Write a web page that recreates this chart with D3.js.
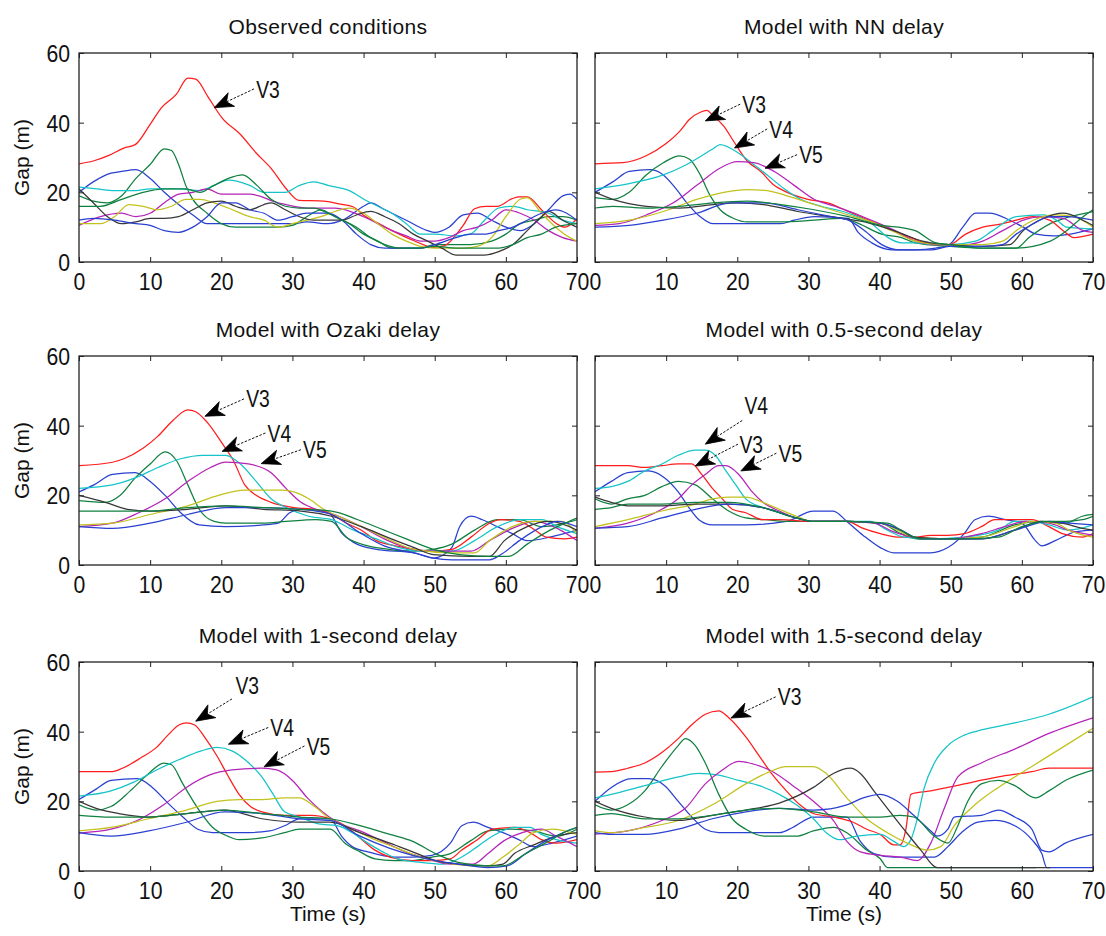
<!DOCTYPE html>
<html><head><meta charset="utf-8">
<script src="https://cdn.jsdelivr.net/npm/d3@7"></script>
<style>
html,body{margin:0;padding:0;background:#fff;}
svg{display:block;}
.tick text{font-family:"Liberation Sans",Arial,sans-serif;font-size:24px;fill:#111;}
.title{font-family:"Liberation Sans",Arial,sans-serif;font-size:21px;fill:#111;letter-spacing:0.4px;}
.alabel{font-family:"Liberation Sans",Arial,sans-serif;font-size:21px;fill:#111;}
.ann{font-family:"Liberation Sans",Arial,sans-serif;font-size:24px;fill:#111;}
</style></head>
<body>
<svg id="chart" width="1106" height="936"></svg>
<script>
// ---------- data ----------
const panelTitles = ["Observed conditions","Model with NN delay","Model with Ozaki delay",
  "Model with 0.5-second delay","Model with 1-second delay","Model with 1.5-second delay"];
const xTicks = [0,10,20,30,40,50,60,70];
const yTicks = [0,20,40,60];
const vehicleNames = ["V1","V2","V3","V4","V5","V6","V7","V8","V9"];
const lineColors = ["#2a40d0","#108040","#ff1c1c","#14c4c8","#b424b8","#c2c21e","#383838","#2a40d0","#108040"];

// each series: [time (s), gap (m)] pairs
const observedSeries = [
 [[0,20],[2,23],[4.5,25.5],[6,26],[8,26.5],[10,24],[12,20],[14,16.5],[16,13.5],[18,11],[20,11],[25,11],[30,11],[32,11.5],[35,11],[37,12],[40,16],[41,17],[43,15],[46,12],[49,9],[50,8.5],[52,10],[54,13.5],[56,14],[58,12],[60,10],[62,9],[64,11],[66,15],[68,19],[69,19.5],[70,18]],
 [[0,19],[2,17.5],[4,17],[6,19],[8,24],[10,28],[12,32.5],[13,32],[14,28],[15,22],[16,18],[18,14],[20,11],[22,10],[25,10],[28,10],[30,10.5],[32,13],[34,15],[36,13],[38,11],[40,8],[42,6],[44,4],[46,4],[48,4],[50,5],[52,5],[55,5],[58,6],[60,8],[62,11],[64,12],[66,13],[68,13],[70,12]],
 [[0,28.2],[2,29],[4.2,30.6],[6.3,32.7],[7.9,33.7],[10,39.5],[11.6,44.3],[13.7,48.2],[15.3,52.8],[16.4,52.5],[18.2,47.2],[20.1,41.4],[22.7,36.6],[24.9,31.3],[27,26.9],[29.1,21.1],[30.9,17.7],[34.4,17.5],[36.5,16.7],[38.6,15.8],[40,13.4],[41.8,11.4],[44.5,8.5],[47.1,6.1],[49.8,4.2],[51.3,4.6],[54,10.5],[55.6,15.3],[57.2,16],[58.8,16],[60.9,18.2],[61.9,18.7],[63,18.7],[65.1,14.8],[67.2,10.9],[68.3,10],[70,12.4]],
 [[0,21.5],[2.5,21],[5,20.5],[8,20.5],[10,21],[14,21],[17,20.5],[19,22],[21,23.5],[24,22],[26,20],[29,20],[31,22],[33,23],[35,22],[38,20.5],[40.5,17.5],[42,16],[44,14],[46,11],[48,8],[50,8],[53,7.5],[55,8],[57,12],[59,15.5],[61,16],[63,15],[66,14],[68,12],[70,11]],
 [[0,10.5],[3,13],[6,14],[8,13],[10,14],[12,17],[14,19.5],[16,20],[18,21],[20,19.5],[24,19.5],[28,17],[32,15.5],[36,15.5],[40,13],[42,11],[44,9],[46,7.5],[48,6],[50,6],[52,7],[54,9],[56,10],[58,12],[60,15],[62,14],[64,12],[66,9],[68,7],[70,6]],
 [[0,11],[3,11],[5,13],[7,16.5],[9,16],[11,15],[13,16],[15,18],[17,18],[19,17],[21,15.5],[24,13],[26,12],[28,10],[30,11],[32,12],[34,13],[36,14.5],[38,15.5],[40,14],[42,11],[44,8],[46,6],[48,4.5],[50,4],[52,4],[54,4],[56,4.5],[58,7],[60,13],[62,18],[63,18.5],[65,14],[67,10],[69,7],[70,6]],
 [[0,21],[2,17],[4,13],[6,11],[8,11.5],[10,12.5],[12,12.5],[14,13],[16,15],[18,17],[20,17.5],[22,16],[24,15],[26,16.5],[27,17],[29,15],[31,13],[33,12],[35,12],[37,12],[39,13.5],[41,14.5],[43,13],[45,11],[47,8],[49,6],[51,4],[53,2],[55,2],[57,2],[59,3],[61,5],[63,9],[65,13],[66,14.5],[68,12],[70,10]],
 [[0,12],[2,12.5],[5,12],[8,11],[10,10.5],[12,9],[14,8.5],[16,10],[18,13],[20,17],[22,17],[24,15],[26,14],[28,12],[30,13],[32,14],[35,14],[37,12],[39,8],[41,5],[43,4],[45,4],[48,4],[50,5],[53,7],[55,8],[57,8],[59,9],[61,10],[63,12],[65,14],[67,15],[70,12]],
 [[0,16],[3,16],[6,18],[9,20],[12,21],[15,21],[17,20],[19,22],[21,24],[23,25],[25,22],[27,18],[29,16],[31,15.5],[33,15.5],[35,14],[37,12],[39,10],[41,7],[43,5],[45,4],[48,4],[50,4.5],[53,4],[56,4],[59,4],[61,5],[63,7],[65,8],[67,10],[70,11]]
];
const nnSeries = [
 [[0,20],[2.5,23],[4.8,26],[7.7,26.5],[9.6,25],[11.4,21],[12.9,17],[14.8,13],[16.6,11],[21.4,11],[26.1,11],[28,12],[30.8,13],[35.6,12.5],[37,8.5],[38.9,5.5],[41.7,3.5],[45,3.5],[47.9,4],[49.8,5],[51.7,10],[53.5,14],[55.4,14],[58.3,12],[60.2,10],[62,8],[64.4,7.5],[66.8,8],[70,9.5]],
 [[0,18.5],[2.5,18],[4.8,20],[7.2,25],[9.6,28.5],[11.9,30.5],[13.3,29.5],[14.8,25],[16.2,19],[17.6,15],[19.5,12.5],[21.4,11.5],[26.1,11.5],[30.8,12],[34.6,12.5],[36.5,11.5],[40.3,8],[43.1,7],[45,5.5],[49.8,4.5],[54.5,4],[59.2,4],[61,7],[64,11],[66.8,13],[70,14.5]],
 [[0,28.2],[3.9,28.5],[7.2,30.5],[10,34],[11.9,37.5],[13.3,41],[14.8,43],[15.7,43.5],[16.6,42],[18.1,39],[19.5,34.6],[21.4,29],[23.3,26],[25.2,22],[27,20],[29.9,18],[32.7,17],[35.6,14.5],[37.9,12.5],[40.3,10.5],[43.1,8],[45,6.5],[47.4,5],[49.8,5],[52.1,8],[54.5,10],[57.3,11],[59.2,12],[61.6,13],[63.9,12],[65.8,9],[67.3,7],[70,8]],
 [[0,21],[4.8,22.5],[9.6,25],[12.9,28],[16.6,32.5],[17.6,33.7],[20,31.5],[22.3,28],[24.2,25],[26.6,21],[28.9,18],[31.8,16],[35.6,14],[38.9,11],[41.2,7],[43.1,5.5],[45,5.5],[47.4,5],[49.8,5],[53.5,6],[55.9,9],[59.2,13],[63,13.5],[64.9,12],[66.3,10],[70,9.5]],
 [[0,10.5],[3.4,11],[7.2,13.5],[11,17],[14.3,22],[17.6,27],[20,28.8],[22.3,28.5],[25.2,26],[28,22],[30.8,18],[33.7,16],[36.5,14],[39.4,11.5],[42.2,9],[45,6],[47.9,5],[52.1,5],[54.5,6],[57.3,9],[60.2,12],[63,13],[65.8,12.5],[68.6,9],[70,8.5]],
 [[0,11],[4.8,12],[9.6,14.5],[14.3,18],[18.1,20],[21.4,20.8],[24.2,20.5],[27,19],[30.8,16.5],[35.6,13.5],[38.9,11.5],[41.7,9],[45,6],[48.8,5],[54.5,5],[57.3,6],[59.2,9],[61.6,12],[64.9,13.5],[67.3,13],[70,10]],
 [[0,20],[2.5,18],[7.2,16],[11.9,15.5],[16.6,16.5],[20,17],[23.7,16.5],[28.5,14.5],[33.2,13],[37.9,11.5],[42.7,8.5],[46,6],[49.8,5],[54.5,4.5],[58.3,5],[60.2,9],[63,12.5],[65.8,14],[68.6,12],[70,10.5]],
 [[0,10],[4.8,10.5],[9.6,12],[14.3,14],[19,17],[23.7,17],[28.5,15],[33.2,13],[35.6,12],[37.9,9],[40.3,5],[42.7,3.5],[47.4,3.5],[49.8,4.5],[54.5,4.5],[57.3,5],[59.2,8],[61.6,11],[64,13],[66.3,13],[70,12]],
 [[0,15.5],[2.5,16],[7.2,15.5],[11.9,16],[16.6,17],[21.4,17.5],[26.1,16.5],[30.8,15],[35.6,13],[40.3,10.5],[42.7,10],[45,9],[47.9,5.5],[49.8,5],[54.5,4],[59.2,4],[64,6],[66.3,9],[68.6,13],[70,15]]
];
const ozakiSeries = [
 [[0,21],[2.1,23],[4.7,26],[7.9,26.5],[10,24],[12.1,20],[14.3,15],[16.9,11.5],[20.6,11],[25.9,11.5],[28,12],[29.6,15],[31.2,16],[34.9,15.5],[37,9],[38.6,6.5],[41.8,4.5],[47.1,3.5],[49.8,2],[52.4,5],[53.5,11],[55.1,14],[56.7,13],[58.8,11],[60.9,9],[63,7],[66.2,8],[70,10]],
 [[0,18.5],[3.7,18],[5.8,20],[7.9,25],[10,29],[12.1,32.5],[13.7,30],[15.3,23],[16.9,16],[19,12.5],[20.6,12],[25.9,12],[29.1,12.5],[33.3,13],[35.5,12.5],[37.6,8],[39.7,6],[41.8,5],[47.1,4],[49.8,4.5],[52.4,6],[55.6,10],[58.8,13],[61.9,13],[65.1,11],[68.3,12],[70,13]],
 [[0,28.5],[4.7,29.5],[6.3,30.5],[9,33.5],[11.1,37],[13.2,41.5],[15.3,44.5],[16.4,44],[18,41],[20.1,35],[21.7,30],[23.3,23],[24.9,20],[27,18],[30.2,16.5],[33.3,16],[35.5,14.5],[37.6,12],[39.7,10],[41.8,7],[44.5,5.5],[47.1,4.5],[49.8,4],[52.4,4.5],[55.1,8],[57.7,12],[59.3,13],[61.9,12.5],[64.1,10],[65.7,8],[68.3,7.5],[70,8]],
 [[0,22],[4.7,23],[7.9,25],[11.1,28],[14.3,30.5],[17.4,31.5],[20.6,31.5],[22.7,29],[24.9,24],[27,19],[29.1,16.5],[32.3,14],[35.5,13],[38.6,10],[41.8,7.5],[45,5],[48.2,4],[52.4,4],[55.6,7],[58.8,11],[61.9,13],[65.1,13],[67.2,11],[70,9]],
 [[0,11],[4.7,12],[8.4,15],[12.1,19],[15.3,24],[18.5,28],[20.6,29.5],[23.8,29],[27,26.5],[29.1,22],[31.2,18],[33.3,16],[36.5,14],[39.7,11],[42.9,7.5],[46,5],[49.2,4],[55.1,4],[57.7,7],[60.9,10.5],[64.1,12.5],[66.7,11],[70,7]],
 [[0,11.5],[4.7,12],[10,14.5],[15.3,17],[19.6,20],[23.3,21.5],[28.6,21.5],[30.2,21],[32.3,19],[34.4,16],[37.6,13],[40.8,10],[43.9,7],[47.1,4.5],[52.4,3.5],[55.6,3.5],[57.7,7],[60.9,11],[64.1,12.5],[67.8,12.5],[70,9]],
 [[0,20],[3.7,18],[6.8,16],[10,15.5],[15.3,16],[20.6,17],[25.9,16],[31.2,15.5],[35.5,14],[39.7,11],[43.9,7.5],[47.1,5],[49.8,3],[55.1,2.5],[57.7,2.5],[59.8,7],[63,11],[66.2,12.5],[70,10]],
 [[0,11],[4.7,10.5],[10,12],[15.3,14.5],[20.6,16.5],[25.9,16.5],[31.2,16],[35.5,14.5],[39.7,9],[42.9,5.5],[47.1,3.5],[49.8,2],[52.4,1.5],[57.7,1.5],[59.3,3],[61.9,7],[65.1,11],[67.2,12.5],[70,11]],
 [[0,15.5],[4.7,15.5],[10,15.5],[15.3,16.5],[20.6,17],[25.9,16.5],[31.2,16],[35.5,15.5],[39.2,13],[42.9,10],[46,7.5],[49.8,4.5],[53.5,3],[57.7,2.5],[60.4,2.5],[63,6],[66.2,10],[68.3,12],[70,13.5]]
];
const halfSecSeries = [
 [[0,21],[2.3,24],[4.6,26.5],[7.5,27],[9.8,25],[11.7,21],[13.2,16.5],[14.6,13],[16.5,11.5],[21.2,11.5],[26.9,12.5],[30.7,15.5],[33.5,15.5],[35.4,12.5],[37.7,8.5],[40.1,5],[42,3.5],[47.2,3.5],[49.6,5],[51.9,9],[53.4,13],[55.3,14],[57.7,13],[60,12],[61.9,7],[62.8,5.5],[64.7,7],[67.5,9.5],[70,10]],
 [[0,19],[2.3,17.5],[4.6,19],[7,20],[9.4,22.5],[11.7,24],[14.1,23],[16.5,19],[18.8,15.5],[21.2,13.5],[24,13],[26.9,12.5],[30.7,12.5],[35.4,12.5],[40.1,12],[43,9],[45.3,7.5],[49.6,7.5],[54.3,8],[59,11.5],[62.8,12.5],[66.1,12],[68.5,14],[70,14.5]],
 [[0,28.5],[4.6,28.5],[7,28],[9.4,28.5],[11.7,29],[13.6,29],[15,26],[16.5,22],[17.9,19],[19.3,16],[21.2,15],[23.6,13],[25.9,13],[30.7,12.5],[35.4,12.5],[37.7,10.5],[40.1,9],[42.5,8],[44.8,8],[47.2,8.5],[49.6,8.5],[51.9,9],[54.3,11],[56.2,13],[59,13],[61.4,13],[63.8,11],[65.7,9],[68.5,8],[70,9]],
 [[0,22],[2.3,22.5],[4.6,24],[7,27],[9.4,29],[11.7,31.5],[14.1,33],[15.5,33],[16.9,31.5],[18.4,27],[19.8,23],[21.2,19],[23.6,16.5],[25.9,15],[28.3,13.5],[30.7,12.5],[35.4,12.5],[38.7,12.5],[41.1,10],[43.4,8],[47.2,7.5],[51.9,8],[56.7,10],[59,12.5],[61.4,12.5],[63.8,11.5],[66.6,10],[70,11.5]],
 [[0,10.5],[4.6,12],[9.4,16],[11.7,19],[13.6,23],[15.5,26],[17.4,28.5],[18.4,28.5],[20.2,26],[22.1,21],[23.6,18],[25.9,15.5],[28.3,13.5],[30.7,12.5],[35.4,12.5],[39.2,12],[42,9.5],[44.8,8],[49.6,7.5],[54.3,9],[57.6,11],[60.5,12.5],[63.8,12],[66.6,10],[70,8.5]],
 [[0,11],[4.6,13],[9.4,15.5],[14.1,17.5],[16.5,19],[18.8,19.5],[21.2,19.5],[23.6,18],[25.9,16],[28.3,14],[30.7,12.5],[35.4,12.5],[40.1,12],[42.5,10],[44.8,8],[49.6,7.5],[54.3,8],[59,11],[61.4,12.5],[64.7,12],[67.1,9.5],[70,8]],
 [[0,19.5],[2.3,18],[4.6,17],[9.4,17],[14.1,17.5],[18.8,17.5],[23.6,16.5],[28.3,13.5],[30.7,12.5],[35.4,12.5],[40.1,12],[43,10],[44.8,8],[49.6,7.5],[54.3,7.5],[59,10],[62.8,12.5],[65.7,12],[68.5,10.5],[70,10]],
 [[0,10.6],[4.6,11],[9.4,13.5],[14.1,16],[18.8,17.5],[23.6,16.5],[28.3,13.5],[30.7,12.5],[35.4,12.5],[40.1,12],[43,10],[45.8,7.5],[49.6,7.5],[54.3,7.5],[59,10],[63.8,12.5],[66.6,12],[70,11.5]],
 [[0,16],[2.3,16.5],[4.6,17.5],[9.4,17.5],[14.1,18],[18.8,18],[23.6,16.5],[28.3,13.5],[30.7,12.5],[35.4,12.5],[41.1,12],[43.4,9.5],[45.8,7.5],[51.9,7.5],[56.7,8],[60,11],[63.8,12.5],[66.1,12.5],[68.5,13],[70,14]]
];
const oneSecSeries = [
 [[0,20.5],[2.4,23.5],[4.5,26],[8.2,26.5],[10.3,24],[12.5,19.5],[14.6,15.5],[16.7,12],[18.8,11],[23.1,11],[26.8,11.5],[28.9,13],[31,15],[35.3,15],[36.9,10],[38.4,7],[40.6,5.5],[44.3,4],[46.9,4],[49.6,4.5],[52.2,8],[53.8,13],[55.4,14],[57.5,12.5],[59.6,11],[61.8,9],[63.9,7],[66.5,8],[70,10]],
 [[0,19],[2.4,17.5],[4.5,18.5],[7.2,23],[9.8,28],[11.9,31],[13,30.5],[14.6,25],[16.7,18],[18.8,12.5],[20.9,10],[22.5,9],[25.7,9.5],[28.9,11],[31,12],[35.3,12],[37.4,8],[39.5,5.5],[41.6,3.5],[44.3,3],[46.9,3],[49.6,4],[52.2,5],[54.9,8.5],[57.5,11.5],[60.7,12],[63.9,11.5],[67.1,10],[70,12]],
 [[0,28.5],[4.5,28.5],[6.1,29.5],[8.7,32.5],[10.9,35.5],[12.5,39],[14.1,42],[15.1,42.5],[16.2,42],[17.8,38],[19.4,33],[20.9,27.5],[22.5,22],[24.1,18.5],[25.7,17],[28.9,16],[32.6,16],[35.3,15],[37.4,13],[39.5,9.5],[41.6,6],[43.7,4],[46.9,3],[49.6,3],[52.2,3.5],[53.8,6],[56,9],[58.1,12],[61.2,12.5],[63.4,11],[65,9],[67.1,8],[70,9]],
 [[0,21.5],[4.5,23],[7.7,25.5],[10.9,29],[14.1,32],[17.2,34.5],[19.4,35.5],[21.5,34.5],[23.6,31.5],[25.7,27],[27.3,22],[28.9,17],[31,15.5],[33.7,13.5],[36.3,13],[38.4,11],[40.6,8],[42.7,5.5],[44.8,3.5],[48,2.5],[51.2,2],[53.8,4],[56,7],[58.1,10],[61.2,12.5],[63.4,12.5],[65,10.5],[67.1,9],[70,8]],
 [[0,10.9],[4.5,12],[8.7,15],[11.9,19],[15.1,24],[18.3,27.5],[21.5,29],[25.7,29.5],[27.8,29],[30,26],[32.1,21],[34.2,17],[36.3,14],[39.5,11.5],[42.7,8.5],[45.9,5.5],[49,3.5],[52.2,2],[55.4,2],[57.5,5],[59.6,8.5],[62.3,11],[65,12],[67.1,10],[70,7]],
 [[0,11.5],[4.5,12.5],[9.8,15],[15.1,17.5],[19.4,20],[22.5,20.5],[25.7,20.5],[28.9,21],[31,21],[33.1,18.5],[35.3,15],[38.4,12],[41.6,9],[44.8,6.5],[48,4],[51.2,2.5],[55.4,1.5],[57.5,1.5],[59.6,4],[61.8,7.5],[63.9,11],[66.5,12],[70,10.5]],
 [[0,20],[2.4,18],[5.6,16.5],[9.8,15.5],[15.1,16.5],[20.4,17.5],[25.7,15],[31,14],[35.3,14],[39.5,11],[43.7,8],[46.9,5.5],[50.1,3],[53.3,2],[57.5,1.5],[59.6,2],[61.2,5],[63.9,7.5],[67.1,10],[70,11]],
 [[0,11],[4.5,10],[9.8,11.5],[15.1,14],[20.4,17],[25.7,16.5],[31,15],[35.3,14.5],[39.5,10],[43.7,6.5],[46.9,4.5],[50.1,3],[53.3,2],[57.5,1],[60.2,1.5],[62.8,5],[65.5,8.5],[68.1,11],[70,12.5]],
 [[0,16],[4.5,15.5],[9.8,15.5],[15.1,16.5],[20.4,17.5],[25.7,16.5],[31,15.5],[35.3,15],[39.5,13],[43.7,10.5],[46.9,8.5],[50.1,5],[53.3,2.5],[57.5,1.5],[59.6,1.5],[62.8,5],[66,8.5],[68.1,11],[70,12.5]]
];
const oneHalfSecSeries = [
 [[0,20],[2.3,24],[5.1,26.5],[7.5,26.5],[9.8,24.5],[11.7,20],[13.6,15.5],[15.5,12],[17.4,11],[21.2,11],[25.9,11],[27.8,12.5],[30.7,15.5],[35.4,15.5],[37.3,8.5],[39.2,5],[42,4],[44.8,4],[47.7,4],[49.6,7],[51.5,11],[53.8,14],[56.2,14.5],[59,13],[61.4,9],[62.8,5],[63.5,1],[70,1]],
 [[0,19],[2.3,17.5],[4.6,19],[7,23],[9.4,30],[11.7,36],[12.7,38],[14.1,36],[15.5,31],[17.4,22],[19.3,15],[21.2,12],[24,10],[28.3,10],[30.7,11.5],[33.5,12.5],[35.4,11],[38.2,6],[40.1,3.5],[41.1,1],[44.8,1],[48.6,1],[55,1],[62,1]],
 [[0,28.4],[2.3,28.5],[4.6,29.5],[7,31],[9.4,34],[11.7,38],[13.6,42],[15.5,45],[17.4,46],[18.8,44],[21.2,38.5],[23.1,33],[25,27.5],[26.9,23],[28.8,19],[30.7,16.5],[33.5,15.5],[36.3,14],[38.2,12],[40.1,10.5],[42,7.5],[42.9,7.5],[43.7,12],[44.4,22],[45.3,22.5],[47.2,23],[49.6,24],[51.9,25],[56.7,27],[61.4,28.5],[63.8,29.5],[70,29.5]],
 [[0,21],[2.3,22],[7,24.5],[11.7,27],[14.6,28],[17.4,27.5],[20.2,26],[23.1,24.5],[25.9,22],[28.3,19],[30.7,15],[32.5,11],[34.4,9],[36.8,10],[40.1,10.5],[42,8.5],[43.4,7],[44.4,9],[45.3,15],[46.3,24],[47.7,31],[49.6,36],[51.9,39],[54.3,40.5],[59,42.5],[63.8,45],[70,50]],
 [[0,10.6],[4.6,11.5],[9.4,14.5],[12.7,18],[15.5,25],[17.9,29],[20.2,31.5],[22.6,30.5],[25,28.5],[27.8,24.5],[30.7,20],[33.5,14.5],[35.4,8.5],[37.3,5.5],[40.1,4.5],[42.9,4],[45.3,3],[47.2,8],[49.1,18],[51,27],[54.3,31],[59,35],[63.8,39.5],[70,44]],
 [[0,11.6],[2.3,11],[7,12.5],[11.7,14.5],[16.5,19],[21.2,25],[24,28],[26.9,30],[30.7,30],[32.5,28],[35.4,21],[38.2,15],[41.1,11],[43.9,8],[46.7,6],[48.6,7],[50.5,13],[53.4,19],[56.7,24],[61.4,30],[66.1,36],[70,41]],
 [[0,20],[2.3,18],[7,15.5],[11.7,14.5],[16.5,16],[21.2,17.5],[25.9,19.5],[30.7,24],[33.5,28],[35.9,29.5],[37.3,28],[39.2,23],[41.1,18],[43.4,12],[45.8,6],[48.1,1],[49.6,1],[63.5,1],[64,1]],
 [[0,11],[2.3,10.5],[7,10.5],[11.7,12],[16.5,15],[21.2,17],[25.9,18],[30.7,17.5],[35.4,19],[37.7,21],[40.1,22],[42.5,20],[44.8,16],[47.2,11.5],[48.1,10],[49.6,12],[50.5,15.5],[54.3,16],[56.7,17.5],[59,15.5],[61.4,12],[62.8,6],[63.8,5.5],[66.1,8],[70,10.5]],
 [[0,16],[2.3,16.5],[7,15],[11.7,15],[16.5,16],[21.2,17.5],[25.9,18],[30.7,17],[35.4,15.5],[40.1,15.5],[42.9,16],[44.8,15.5],[47.7,10],[49.6,8],[51,13],[52.4,20],[54.3,25],[56.7,26],[59,24.5],[61.9,21],[63.8,23],[66.1,26],[70,29]]
];
const panelSeries = [observedSeries, nnSeries, ozakiSeries, halfSecSeries, oneSecSeries, oneHalfSecSeries];

// annotations: [label, text t, text gap, shaft-start t, shaft-start gap, tip t, tip gap]
const observedNotes = [["V3",24.9,49.7,24.6,49.7,19,44.3]];
const nnNotes = [["V3",20.7,45.3,20.4,45.3,15.5,40.5],["V4",24.5,38.2,24.2,38.2,19.6,32.7],["V5",28.7,30.8,28.4,30.8,23.9,26.9]];
const ozakiNotes = [["V3",23.5,47.7,23.2,47.7,17.7,42.7],["V4",26.5,37.9,26.2,37.9,20.1,32.6],["V5",31.5,33.1,31.2,33.1,25.6,29.1]];
const halfSecNotes = [["V4",21,45.8,20.7,41.5,15.5,34.7],["V3",20.3,34.7,20.1,34.7,14.1,28.4],["V5",25.8,32.1,25.5,32.1,20.5,27]];
const oneSecNotes = [["V3",22,53.3,21.5,49.4,16.4,43],["V4",26.9,41.2,26.6,41.2,21,36.4],["V5",32,35.9,31.7,35.9,26,29.9]];
const oneHalfSecNotes = [["V3",25.7,50,25.4,50,19.1,43.9]];
const panelNotes = [observedNotes, nnNotes, ozakiNotes, halfSecNotes, oneSecNotes, oneHalfSecNotes];

// ---------- layout ----------
const colLeft = [79, 595];
const rowTop = [53, 356, 662];
const W = 498, H = 209;

const svg = d3.select("#chart");
const x = d3.scaleLinear().domain([0,70]).range([0,W]);
const y = d3.scaleLinear().domain([0,60]).range([H,0]);
const line = d3.line().x(d=>x(d[0])).y(d=>y(d[1])).curve(d3.curveMonotoneX);
const narrow = sel => sel.each(function(){
  const t = this.textContent;
  if (t) d3.select(this).attr("textLength", t.length * 11.8).attr("lengthAdjust","spacingAndGlyphs");
});

panelSeries.forEach((series, i) => {
  const col = i % 2, row = Math.floor(i / 2);
  const g = svg.append("g").attr("transform", `translate(${colLeft[col]},${rowTop[row]})`);

  g.append("clipPath").attr("id","clip"+i).append("rect").attr("width",W).attr("height",H);

  // title
  svg.append("text").attr("class","title")
    .attr("x", colLeft[col] + W/2).attr("y", rowTop[row] - 19)
    .attr("text-anchor","middle").text(panelTitles[i]);

  // lines
  const lg = g.append("g").attr("clip-path",`url(#clip${i})`);
  series.forEach((s, k) => {
    lg.append("path").attr("d", line(s)).attr("fill","none")
      .attr("stroke", lineColors[k]).attr("stroke-width",1.25)
      .attr("stroke-linejoin","round");
  });

  // axes (ticks inward)
  const bottom = g.append("g").attr("transform",`translate(0,${H})`)
    .call(d3.axisBottom(x).tickValues(xTicks).tickFormat(d3.format("d")).tickSizeInner(-5).tickSizeOuter(0).tickPadding(11));
  const top = g.append("g").call(d3.axisTop(x).tickValues(xTicks).tickFormat("").tickSizeInner(-5).tickSizeOuter(0));
  const left = g.append("g").call(d3.axisLeft(y).tickValues(yTicks).tickFormat(col === 0 ? d3.format("d") : "").tickSizeInner(-5).tickSizeOuter(0).tickPadding(9));
  const right = g.append("g").attr("transform",`translate(${W},0)`)
    .call(d3.axisRight(y).tickValues(yTicks).tickFormat("").tickSizeInner(-5).tickSizeOuter(0));
  [bottom, top, left, right].forEach(a => {
    a.select(".domain").remove();
    a.selectAll("line").attr("stroke","#222");
  });
  left.selectAll("text").attr("dy","0.36em");
  bottom.selectAll("text").call(narrow);
  left.selectAll("text").call(narrow);

  // box
  g.append("rect").attr("width",W).attr("height",H).attr("fill","none")
    .attr("stroke","#222").attr("stroke-width",1.3);

  // axis labels
  if (col === 0) {
    svg.append("text").attr("class","alabel")
      .attr("transform",`translate(29,${rowTop[row] + H/2}) rotate(-90)`)
      .attr("text-anchor","middle").text("Gap (m)");
  }
  if (row === 2) {
    svg.append("text").attr("class","alabel")
      .attr("x", colLeft[col] + W/2).attr("y", rowTop[row] + H + 50)
      .attr("text-anchor","middle").text("Time (s)");
  }

  // annotations
  panelNotes[i].forEach(n => {
    const [lab, tt, tv, st, sv, pt, pv] = n;
    const x0 = x(st), y0 = y(sv), x1 = x(pt), y1 = y(pv);
    const dx = x1 - x0, dy = y1 - y0, len = Math.hypot(dx, dy);
    const ux = dx/len, uy = dy/len, px = -uy, py = ux;
    const L = 19, hw = 7.5;
    const bx = x1 - ux*L, by = y1 - uy*L;
    const nx = x1 - ux*L*0.72, ny = y1 - uy*L*0.72;
    g.append("line").attr("x1",x0).attr("y1",y0).attr("x2",nx).attr("y2",ny)
      .attr("stroke","#111").attr("stroke-width",1).attr("stroke-dasharray","2.5,1.5");
    g.append("path")
      .attr("d",`M${x1},${y1}L${bx+px*hw},${by+py*hw}L${nx},${ny}L${bx-px*hw},${by-py*hw}Z`)
      .attr("fill","#000").attr("stroke","#000").attr("stroke-width",0.8).attr("stroke-linejoin","round");
    g.append("text").attr("class","ann").attr("x", x(tt)).attr("y", y(tv))
      .attr("dy","0.36em").call(narrow).text(lab);
    g.selectAll("text.ann").call(narrow);
  });
});
</script>
</body></html>
